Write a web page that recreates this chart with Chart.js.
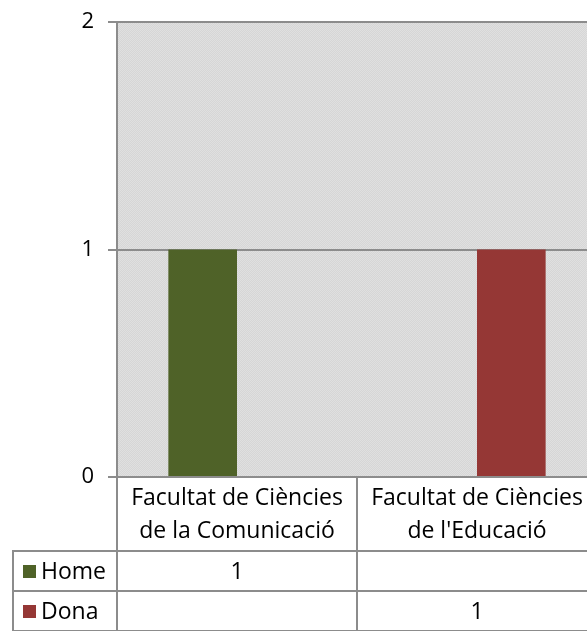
<!DOCTYPE html>
<html>
<head>
<meta charset="utf-8">
<script src="https://cdn.jsdelivr.net/npm/chart.js@4/dist/chart.umd.min.js"></script>
<style>
  html, body { margin: 0; padding: 0; background: #fff; overflow: hidden; }
  #wrap { width: 600px; height: 631px; position: relative; }
</style>
</head>
<body>
<div id="wrap"><canvas id="chart"></canvas></div>
<script>
// chart values
const categories = [
  ["Facultat de Ciències", "de la Comunicació"],
  ["Facultat de Ciències", "de l'Educació"],
];
const seriesNames = ["Home", "Dona"];
const homeValues = [1, null];
const donaValues = [null, 1];
const yTicks = [0, 1, 2];

const colors = ["#4f6228", "#953735"];
const lineGray = "#8c8c8c";
const fontFamily = "'Open Sans', 'DejaVu Sans', sans-serif";

const makePattern = (ctx) => {
  const c = document.createElement("canvas");
  c.width = 2;
  c.height = 2;
  const p = c.getContext("2d");
  p.fillStyle = "#d6d6d6";
  p.fillRect(0, 0, 2, 2);
  p.fillStyle = "#e0e0e0";
  p.fillRect(0, 0, 1, 1);
  p.fillRect(1, 1, 1, 1);
  return ctx.createPattern(c, "repeat");
};

const plotBackground = {
  id: "plotBackground",
  beforeDraw: (chart) => {
    const { ctx, chartArea } = chart;
    ctx.save();
    ctx.fillStyle = makePattern(ctx);
    ctx.fillRect(chartArea.left, chartArea.top, chartArea.right - chartArea.left, chartArea.bottom - chartArea.top);
    ctx.restore();
  },
};

const dataTable = {
  id: "dataTable",
  afterDraw: (chart) => {
    const { ctx, chartArea } = chart;
    const x = chart.scales.x;
    const top = chartArea.bottom;
    const headerH = 74;
    const rowH = 40;
    const legendLeft = 13;
    const centers = categories.map((_, i) => x.getPixelForValue(i));
    const step = centers[1] - centers[0];
    const edges = [chartArea.left, ...centers.map((c) => c + step / 2)];
    const rowsTop = top + headerH;
    const bottom = rowsTop + rowH * seriesNames.length;

    ctx.save();
    ctx.strokeStyle = lineGray;
    ctx.lineWidth = 2;
    ctx.beginPath();
    // vertical lines
    edges.forEach((e) => {
      ctx.moveTo(e, top);
      ctx.lineTo(e, bottom);
    });
    ctx.moveTo(legendLeft, rowsTop);
    ctx.lineTo(legendLeft, bottom);
    // horizontal lines
    for (let r = 0; r <= seriesNames.length; r++) {
      ctx.moveTo(legendLeft - 1, rowsTop + r * rowH);
      ctx.lineTo(edges[edges.length - 1] + 1, rowsTop + r * rowH);
    }
    ctx.stroke();

    ctx.fillStyle = "#000";
    ctx.font = "23px " + fontFamily;
    ctx.textAlign = "center";
    ctx.textBaseline = "middle";
    categories.forEach((lines, i) => {
      lines.forEach((ln, j) => {
        ctx.fillText(ln, centers[i], top + 21 + j * 33);
      });
    });

    const series = [homeValues, donaValues];
    seriesNames.forEach((name, r) => {
      const cy = rowsTop + r * rowH + rowH / 2 + 1;
      ctx.fillStyle = colors[r];
      ctx.fillRect(legendLeft + 10, cy - 7, 13, 13);
      ctx.fillStyle = "#000";
      ctx.textAlign = "left";
      ctx.fillText(name, legendLeft + 28, cy);
      ctx.textAlign = "center";
      series[r].forEach((v, i) => {
        if (v !== null) ctx.fillText(String(v), centers[i], cy);
      });
    });
    ctx.restore();
  },
};

new Chart(document.getElementById("chart"), {
  type: "bar",
  data: {
    labels: categories,
    datasets: [
      {
        label: seriesNames[0],
        data: homeValues,
        backgroundColor: colors[0],
        categoryPercentage: 0.572,
        barPercentage: 1,
      },
      {
        label: seriesNames[1],
        data: donaValues,
        backgroundColor: colors[1],
        categoryPercentage: 0.572,
        barPercentage: 1,
      },
    ],
  },
  options: {
    responsive: true,
    maintainAspectRatio: false,
    animation: false,
    events: [],
    layout: {
      padding: { top: 22, bottom: 154, right: 3, left: 0 },
    },
    plugins: {
      legend: { display: false },
      tooltip: { enabled: false },
    },
    scales: {
      x: {
        display: false,
      },
      y: {
        min: yTicks[0],
        max: yTicks[yTicks.length - 1],
        afterFit: (scale) => {
          scale.width = 117;
          scale.paddingTop = 0;
          scale.paddingBottom = 0;
        },
        afterBuildTicks: (scale) => {
          scale.ticks = yTicks.map((v) => ({ value: v }));
        },
        ticks: {
          color: "#000",
          padding: 14,
          font: { family: fontFamily, size: 22 },
        },
        grid: {
          color: lineGray,
          lineWidth: 2,
          tickLength: 9,
        },
        border: {
          color: lineGray,
          width: 2,
        },
      },
    },
  },
  plugins: [plotBackground, dataTable],
});
</script>
</body>
</html>
